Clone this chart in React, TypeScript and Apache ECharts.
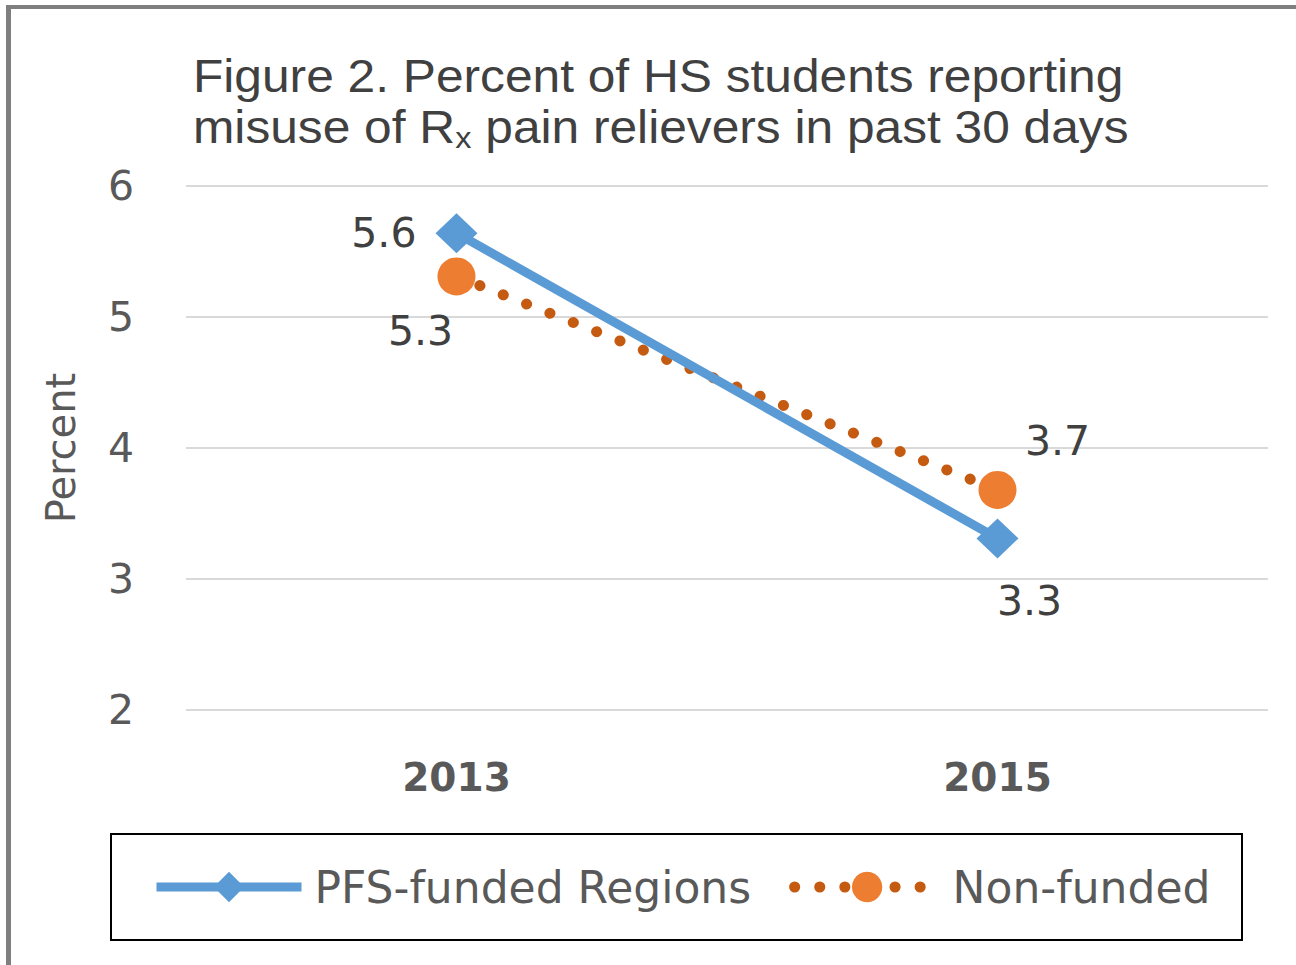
import React, { useEffect, useRef } from "react";
import * as echarts from "echarts";

const categories = ["2013", "2015"];
const pfsValues = [5.64, 3.31];
const nonValues = [5.31, 3.68];
const yTicks = [2, 3, 4, 5, 6];
const seriesNames = ["PFS-funded Regions", "Non-funded"];
const titleLines = ["Figure 2. Percent of HS students reporting", "misuse of R{sub|x} pain relievers in past 30 days"];

const FONT = "'DejaVu Sans', sans-serif";
const TFONT = "'Liberation Sans', Arial, sans-serif";

export default function App() {
  const ref = useRef<HTMLDivElement>(null);
  useEffect(() => {
    document.body.style.margin = "0";
    const chart = echarts.init(ref.current!, null, { renderer: "svg" });
    const labelBase = {
      show: true,
      fontFamily: FONT,
      fontSize: 41,
      color: "#404040",
      formatter: (p: any) => Number(p.value).toFixed(1),
    };
    chart.setOption({
      animation: false,
      backgroundColor: "#ffffff",
      grid: { left: 186, right: 28, top: 186, bottom: 255 },
      xAxis: {
        type: "category",
        data: categories,
        boundaryGap: true,
        axisLine: { show: false },
        axisTick: { show: false },
        axisLabel: {
          margin: 48,
          fontFamily: FONT,
          fontSize: 39,
          fontWeight: "bold",
          color: "#595959",
        },
      },
      yAxis: {
        type: "value",
        min: yTicks[0],
        max: yTicks[yTicks.length - 1],
        interval: 1,
        name: "Percent",
        nameLocation: "middle",
        nameGap: 105,
        nameTextStyle: { fontFamily: FONT, fontSize: 40, color: "#595959" },
        axisLine: { show: false },
        axisTick: { show: false },
        splitLine: { lineStyle: { color: "#d9d9d9", width: 2 } },
        axisLabel: { margin: 52, fontFamily: FONT, fontSize: 41, color: "#595959" },
      },
      legend: {
        left: 152,
        top: 865,
        padding: 0,
        itemWidth: 145,
        itemHeight: 38,
        itemGap: 38,
        textStyle: { fontFamily: FONT, fontSize: 44, color: "#595959", padding: [0, 0, 0, 8] },
        data: [
          { name: seriesNames[0], lineStyle: { width: 9 } },
          { name: seriesNames[1], lineStyle: { width: 11 } },
        ],
      },
      series: [
        {
          name: seriesNames[0],
          type: "line",
          data: [
            { value: pfsValues[0], label: { ...labelBase, position: "left", offset: [-14, 0] } },
            { value: pfsValues[1], label: { ...labelBase, position: "bottom", offset: [32, 17] } },
          ],
          symbol: "diamond",
          symbolSize: [42, 40],
          itemStyle: { color: "#5b9bd5" },
          lineStyle: { color: "#5b9bd5", width: 9 },
          z: 3,
        },
        {
          name: seriesNames[1],
          type: "line",
          data: [
            { value: nonValues[0], label: { ...labelBase, position: "bottom", offset: [-36, 10] } },
            { value: nonValues[1], label: { ...labelBase, position: "top", offset: [60, -4] } },
          ],
          symbol: "circle",
          symbolSize: 38,
          itemStyle: { color: "#ed7d31" },
          lineStyle: { color: "#c55a11", width: 11, type: [0.1, 25], cap: "round" },
          z: 2,
        },
      ],
      graphic: [
        { type: "rect", shape: { x: 6, y: 5, width: 1290, height: 4 }, style: { fill: "#7f7f7f" }, silent: true },
        { type: "rect", shape: { x: 6, y: 5, width: 5, height: 960 }, style: { fill: "#7f7f7f" }, silent: true },
        {
          type: "rect",
          shape: { x: 111, y: 834, width: 1131, height: 106 },
          style: { fill: "none", stroke: "#000000", lineWidth: 2 },
          silent: true,
          z: -1,
        },
        {
          type: "text",
          x: 193,
          y: 51,
          scaleX: 1.08,
          silent: true,
          style: {
            text: titleLines.join("\n"),
            fontFamily: TFONT,
            fontSize: 46,
            lineHeight: 51,
            fill: "#404040",
            verticalAlign: "top",
            rich: {
              sub: {
                fontFamily: TFONT,
                fontSize: 30,
                fill: "#404040",
                verticalAlign: "bottom",
                padding: [16, 0, 0, 0],
                lineHeight: 51,
              },
            },
          },
        },
      ],
    });
    return () => chart.dispose();
  }, []);
  return <div ref={ref} style={{ width: 1296, height: 965 }} />;
}
